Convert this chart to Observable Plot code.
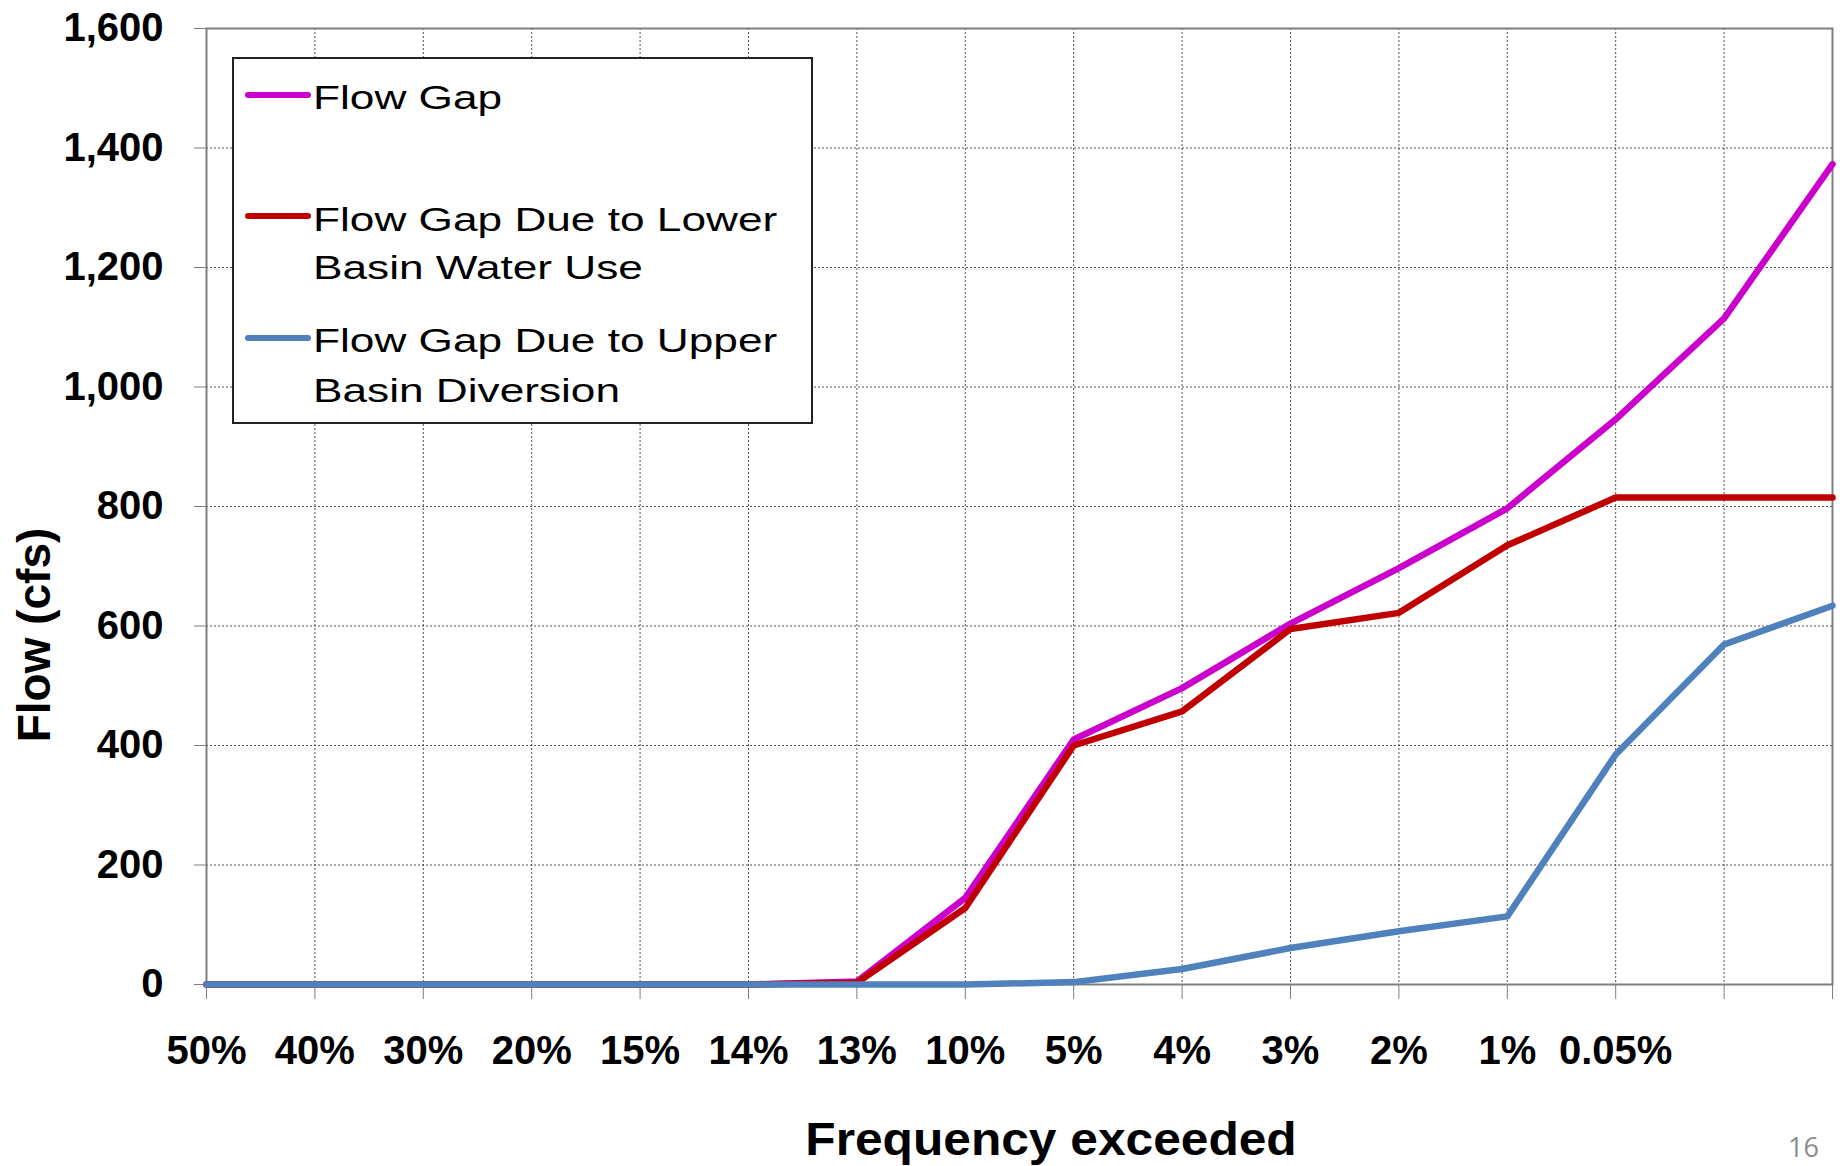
<!DOCTYPE html>
<html>
<head>
<meta charset="utf-8">
<script src="https://cdn.jsdelivr.net/npm/d3@7"></script>
<script src="https://cdn.jsdelivr.net/npm/@observablehq/plot@0.6"></script>
<style>
  html, body { margin: 0; padding: 0; background: #fff; overflow: hidden; }
  #chart { width: 1845px; height: 1166px; }
</style>
</head>
<body>
<div id="chart"></div>
<script>
// Exceedance frequencies along the x axis (the last two positions carry no label)
const frequency = ["50%", "40%", "30%", "20%", "15%", "14%", "13%", "10%", "5%", "4%", "3%", "2%", "1%", "0.05%", "", ""];

// Flow values (cfs) for each series at each frequency position
const flowGap    = [0, 0, 0, 0, 0, 0, 5, 145, 410, 496, 604, 697, 797, 946, 1115, 1373];
const lowerBasin = [0, 0, 0, 0, 0, 0, 3, 128, 400, 457, 595, 622, 735, 815, 815, 815];
const upperBasin = [0, 0, 0, 0, 0, 0, 0, 0, 4, 26, 61, 89, 114, 385, 569, 634];

const seriesNames = ["Flow Gap", "Flow Gap Due to Lower Basin Water Use", "Flow Gap Due to Upper Basin Diversion"];
const seriesColors = ["#CC00CC", "#C00000", "#4F81BD"];
const legendLines = [["Flow Gap"], ["Flow Gap Due to Lower", "Basin Water Use"], ["Flow Gap Due to Upper", "Basin Diversion"]];

const yTicks = [0, 200, 400, 600, 800, 1000, 1200, 1400, 1600];
const xPositions = d3.range(frequency.length);

const rows = [flowGap, lowerBasin, upperBasin].flatMap((values, s) =>
  values.map((value, i) => ({ i, value, series: seriesNames[s] }))
);

const W = 1845, H = 1166;
const margin = { top: 28, right: 13, bottom: 182, left: 206 };
const font = "'Liberation Sans', Arial, Helvetica, sans-serif";
const gridStyle = { stroke: "#333", strokeOpacity: 0.85, strokeDasharray: "2,2", strokeWidth: 1 };

const svg = Plot.plot({
  width: W,
  height: H,
  marginTop: margin.top,
  marginRight: margin.right,
  marginBottom: margin.bottom,
  marginLeft: margin.left,
  style: { fontFamily: font, background: "#fff", color: "#000" },
  x: { domain: [0, frequency.length - 1], label: null },
  y: { domain: [0, 1600], label: null },
  color: { domain: seriesNames, range: seriesColors },
  marks: [
    Plot.gridX(xPositions, gridStyle),
    Plot.gridY(yTicks, gridStyle),
    Plot.frame({ stroke: "#7f7f7f", strokeWidth: 2 }),
    Plot.axisY(yTicks, {
      tickSize: 12, tickPadding: 31, stroke: "#7f7f7f", fill: "#000",
      tickFormat: d3.format(","), fontSize: 40, fontWeight: "bold", label: null
    }),
    Plot.axisX(xPositions, {
      tickSize: 15, tickPadding: 36, stroke: "#7f7f7f", fill: "#000",
      tickFormat: i => frequency[i], fontSize: 40, fontWeight: "bold", label: null
    }),
    Plot.line(rows, {
      x: "i", y: "value", z: "series", stroke: "series",
      strokeWidth: 6.5, strokeLinejoin: "round", strokeLinecap: "round"
    })
  ]
});

const root = d3.select(svg);

// Axis titles
root.append("text")
  .attr("transform", "translate(1051,1155) scale(1.08,1)")
  .attr("text-anchor", "middle")
  .attr("font-family", font).attr("font-weight", "bold").attr("font-size", 46)
  .attr("fill", "#000")
  .text("Frequency exceeded");

root.append("text")
  .attr("transform", "translate(50,635) rotate(-90)")
  .attr("text-anchor", "middle")
  .attr("font-family", font).attr("font-weight", "bold").attr("font-size", 46)
  .attr("fill", "#000")
  .text("Flow (cfs)");

// Legend box
const legend = root.append("g").attr("text-anchor", "start");
legend.append("rect")
  .attr("x", 233).attr("y", 58).attr("width", 579).attr("height", 365)
  .attr("fill", "#fff").attr("stroke", "#222").attr("stroke-width", 2);

const sampleY = [95, 216, 338];
const baselines = [[108.5], [230.7, 279.3], [351.7, 401.7]];
seriesNames.forEach((name, k) => {
  legend.append("line")
    .attr("x1", 248).attr("x2", 308)
    .attr("y1", sampleY[k]).attr("y2", sampleY[k])
    .attr("stroke", seriesColors[k]).attr("stroke-width", 6).attr("stroke-linecap", "round");
  legendLines[k].forEach((line, j) => {
    legend.append("text")
      .attr("transform", `translate(313,${baselines[k][j]}) scale(1.3,1)`)
      .attr("text-anchor", "start")
      .attr("font-family", font).attr("font-size", 34).attr("fill", "#000")
      .text(line);
  });
});

// Slide page number
root.append("text")
  .attr("x", 1788).attr("y", 1157)
  .attr("text-anchor", "start")
  .attr("font-family", "'Open Sans', 'Liberation Sans', sans-serif")
  .attr("font-size", 27).attr("fill", "#8c8c8c")
  .text("16");

document.getElementById("chart").appendChild(svg);
</script>
</body>
</html>
